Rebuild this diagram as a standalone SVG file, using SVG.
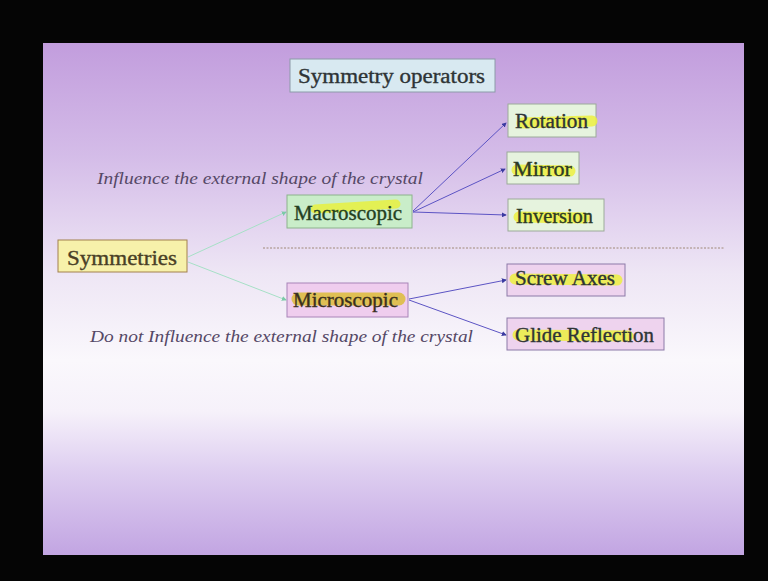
<svg xmlns="http://www.w3.org/2000/svg" width="768" height="581" viewBox="0 0 768 581">
  <defs>
    <linearGradient id="slideBg" x1="0" y1="0" x2="0" y2="1">
      <stop offset="0" stop-color="#c29ddd"/>
      <stop offset="0.22" stop-color="#d4bce8"/>
      <stop offset="0.45" stop-color="#eee6f5"/>
      <stop offset="0.62" stop-color="#faf8fc"/>
      <stop offset="0.72" stop-color="#f6f1fa"/>
      <stop offset="0.84" stop-color="#ddcdf0"/>
      <stop offset="1" stop-color="#c2a5e2"/>
    </linearGradient>
    <marker id="arrBlue" viewBox="0 0 6 6" refX="5" refY="3" markerWidth="5" markerHeight="5" orient="auto">
      <path d="M0,0 L6,3 L0,6 Z" fill="#3a3aa0"/>
    </marker>
    <marker id="arrGreen" viewBox="0 0 6 6" refX="5" refY="3" markerWidth="5" markerHeight="5" orient="auto">
      <path d="M0,0 L6,3 L0,6 Z" fill="#7ccaa8"/>
    </marker>
  </defs>
  <style>
    .lbl { font-family: "Liberation Serif", "Times New Roman", serif; font-size: 20px; fill: #2e3436; stroke: currentColor; stroke-width: 0.35; color: #2e3436; }
    .note { font-family: "Liberation Serif", "Times New Roman", serif; font-style: italic; font-size: 17px; fill: #554866; }
    .hl { stroke-linecap: round; fill: none; opacity: 0.85; }
    .blue { stroke: #5c54c4; stroke-width: 1; fill: none; marker-end: url(#arrBlue); }
    .green { stroke: #a6e0c6; stroke-width: 1; fill: none; marker-end: url(#arrGreen); }
  </style>

  <!-- frame and slide -->
  <rect x="0" y="0" width="768" height="581" fill="#050505"/>
  <rect x="43" y="43" width="701" height="512" fill="url(#slideBg)"/>

  <!-- divider -->
  <line x1="263" y1="248" x2="725" y2="248" stroke="#a08878" stroke-width="1" stroke-dasharray="2,1.5"/>

  <!-- notes -->
  <text class="note" x="97" y="184" textLength="326" lengthAdjust="spacingAndGlyphs">Influence the external shape of the crystal</text>
  <text class="note" x="90" y="342" textLength="383" lengthAdjust="spacingAndGlyphs">Do not Influence the external shape of the crystal</text>

  <g id="connectors">
    <line class="green" x1="188" y1="257" x2="286" y2="212"/>
    <line class="green" x1="188" y1="262" x2="286" y2="300"/>
    <line class="blue" x1="413" y1="211" x2="506" y2="123"/>
    <line class="blue" x1="413" y1="212" x2="505" y2="169"/>
    <line class="blue" x1="413" y1="212" x2="506" y2="215"/>
    <line class="blue" x1="409" y1="299" x2="506" y2="280"/>
    <line class="blue" x1="409" y1="300" x2="506" y2="335"/>
  </g>

  <g id="symmetry-operators">
    <rect x="290" y="59" width="205" height="33" fill="#d8e9f1" stroke="#8c9aa8"/>
    <text class="lbl" x="298" y="83" font-size="24" textLength="187" lengthAdjust="spacingAndGlyphs">Symmetry operators</text>
  </g>

  <g id="symmetries">
    <rect x="58" y="240" width="129" height="32" fill="#f7f1aa" stroke="#a2804e"/>
    <text class="lbl" x="67" y="265" font-size="22" textLength="110" lengthAdjust="spacingAndGlyphs" style="fill:#4a3f26;color:#4a3f26">Symmetries</text>
  </g>

  <g id="macroscopic">
    <rect x="287" y="195" width="125" height="33" fill="#c9edc9" stroke="#8cb28c"/>
    <path class="hl" d="M315,209 L396,204" stroke="#e8f040" stroke-width="9"/>
    <text class="lbl" x="294" y="220" textLength="108" lengthAdjust="spacingAndGlyphs" style="fill:#24401f;color:#24401f">Macroscopic</text>
  </g>

  <g id="microscopic">
    <rect x="287" y="283" width="121" height="34" fill="#efcdee" stroke="#a884b8"/>
    <path class="hl" d="M298,299 L399,299" stroke="#dcbc38" stroke-width="13"/>
    <text class="lbl" x="293" y="307" textLength="105" lengthAdjust="spacingAndGlyphs" style="fill:#3a3020;color:#3a3020">Microscopic</text>
  </g>

  <g id="rotation">
    <rect x="508" y="104" width="88" height="33" fill="#e6f3de" stroke="#9caa9a"/>
    <path class="hl" d="M522,123 L592,121" stroke="#ecf040" stroke-width="11"/>
    <text class="lbl" x="515" y="128" textLength="73" lengthAdjust="spacingAndGlyphs">Rotation</text>
  </g>

  <g id="mirror">
    <rect x="507" y="152" width="72" height="32" fill="#e6f3de" stroke="#9caa9a"/>
    <path class="hl" d="M517,170 L570,171" stroke="#ecf040" stroke-width="11"/>
    <text class="lbl" x="513" y="176" textLength="59" lengthAdjust="spacingAndGlyphs" style="fill:#2c3a26;color:#2c3a26">Mirror</text>
  </g>

  <g id="inversion">
    <rect x="508" y="199" width="96" height="32" fill="#e6f3de" stroke="#9caa9a"/>
    <path class="hl" d="M519,217 L584,218" stroke="#ecf040" stroke-width="11"/>
    <text class="lbl" x="516" y="223" textLength="77" lengthAdjust="spacingAndGlyphs" style="fill:#2c3a26;color:#2c3a26">Inversion</text>
  </g>

  <g id="screw-axes">
    <rect x="507" y="264" width="118" height="32" fill="#eed3ee" stroke="#8c7aa8"/>
    <path class="hl" d="M515,279 L617,280" stroke="#ecf040" stroke-width="11"/>
    <text class="lbl" x="515" y="285" textLength="100" lengthAdjust="spacingAndGlyphs">Screw Axes</text>
  </g>

  <g id="glide-reflection">
    <rect x="507" y="318" width="157" height="32" fill="#eed3ee" stroke="#8c7aa8"/>
    <path class="hl" d="M518,335 L628,336" stroke="#ecf040" stroke-width="11"/>
    <text class="lbl" x="515" y="342" textLength="139" lengthAdjust="spacingAndGlyphs">Glide Reflection</text>
  </g>
</svg>
